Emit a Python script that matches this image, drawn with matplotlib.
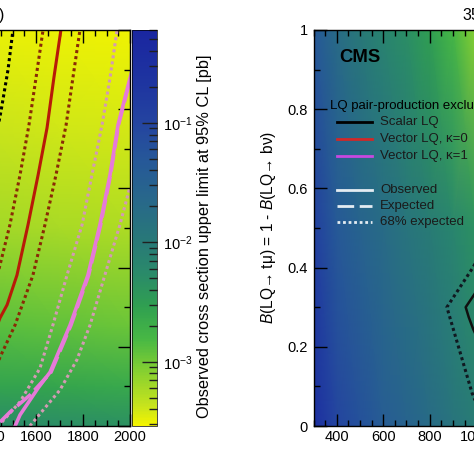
import matplotlib
matplotlib.use('Agg')
import matplotlib.pyplot as plt
from matplotlib.colors import LinearSegmentedColormap, LogNorm
from matplotlib.ticker import MultipleLocator, LogLocator, NullFormatter, FuncFormatter
from matplotlib.lines import Line2D
import numpy as np

plt.rcParams['font.family'] = ['Liberation Sans', 'DejaVu Sans']
plt.rcParams['mathtext.fontset'] = 'custom'
plt.rcParams['mathtext.rm'] = 'Liberation Sans'
plt.rcParams['mathtext.it'] = 'Liberation Sans:italic'
plt.rcParams['mathtext.bf'] = 'Liberation Sans:bold'

# z axis palette (bottom -> top)
pal_pos = [0.0, 0.048, 0.134, 0.217, 0.30, 0.386, 0.47, 0.57, 0.67, 0.765, 0.87, 1.0]
pal_col = ['#f4f400', '#c8e41c', '#88d030', '#48b844', '#30a050', '#2a8a6a',
           '#287878', '#28688a', '#265898', '#2444a0', '#1e34a0', '#1a26a0']
zmin, zmax = 2.9e-4, 0.6

# left panel: observed limit map [pb] (rows = l_y, cols = l_mass)
l_mass = [300, 1400, 1700, 2000]
l_y = [0.0, 0.1, 0.25, 0.5, 0.75, 1.0]
l_xsec = [[0.35, 0.0055, 0.0050, 0.0046],
          [0.20, 0.0027, 0.0025, 0.0023],
          [0.10, 0.0013, 0.0012, 0.0011],
          [0.05, 0.00062, 0.00058, 0.00055],
          [0.03, 0.00042, 0.00040, 0.00038],
          [0.02, 0.00032, 0.00031, 0.00030]]

# left panel exclusion curves
sc_exp68_m = [1330, 1380, 1420, 1451, 1481, 1502]
sc_exp68_y = [0.45, 0.6, 0.7, 0.795, 0.9, 1.0]
v0_obs_m = [1400, 1447, 1477, 1519, 1566, 1609, 1647, 1676, 1706]
v0_obs_y = [0.2, 0.273, 0.306, 0.381, 0.508, 0.634, 0.753, 0.879, 1.0]
v0_lo_m = [1400, 1447, 1489, 1532, 1570, 1600, 1630]
v0_lo_y = [0.3, 0.407, 0.508, 0.634, 0.76, 0.879, 1.0]
v0_hi_m = [1400, 1447, 1511, 1587, 1638, 1685, 1728, 1757, 1787]
v0_hi_y = [0.1, 0.174, 0.255, 0.381, 0.508, 0.634, 0.76, 0.879, 1.0]
v1_obs_m = [1511, 1532, 1609, 1660, 1745, 1821, 1872, 1915, 1949, 1996, 2010]
v1_obs_y = [0.0, 0.028, 0.096, 0.136, 0.255, 0.381, 0.508, 0.634, 0.76, 0.869, 0.9]
v1_exp_m = [1447, 1489, 1574, 1664, 1749, 1824, 1875, 1917, 1951, 1998]
v1_exp_y = [0.01, 0.035, 0.078, 0.136, 0.255, 0.381, 0.508, 0.634, 0.76, 0.869]
v1_lo_m = [1455, 1532, 1617, 1672, 1732, 1796, 1838, 1881, 1915, 1945]
v1_lo_y = [0.01, 0.061, 0.146, 0.255, 0.381, 0.508, 0.634, 0.76, 0.879, 1.0]
v1_hi_m = [1574, 1630, 1702, 1774, 1830, 1902, 1957, 2000]
v1_hi_y = [0.0, 0.040, 0.091, 0.167, 0.255, 0.399, 0.508, 0.604]

# right panel: limit map vs mass and branching fraction [pb]
r_mass = [300, 400, 500, 600, 700, 800, 900, 1000, 1200, 2000]
r_br = [0.0, 0.5, 1.0]
r_xsec = [[0.35, 0.096, 0.061, 0.038, 0.028, 0.019, 0.013, 0.009, 0.005, 0.001],
          [0.13, 0.045, 0.028, 0.019, 0.013, 0.0095, 0.0066, 0.0045, 0.0025, 0.0005],
          [0.048, 0.019, 0.0105, 0.0070, 0.0048, 0.0030, 0.0016, 0.0008, 0.0006, 0.0003]]
r_obs_m = [1060, 994, 955, 968, 987, 1030]
r_obs_y = [0.40, 0.334, 0.30, 0.275, 0.245, 0.19]
r_exp68_m = [1100, 986, 874, 982, 1040]
r_exp68_y = [0.52, 0.40, 0.30, 0.084, 0.0]

cmap = LinearSegmentedColormap.from_list('lim', list(zip(pal_pos, pal_col)))
norm = LogNorm(vmin=zmin, vmax=zmax)

W = 474.0
def fx(px):
    return px / W
def fy(py):
    return 1 - py / W

fig = plt.figure(figsize=(4.74, 4.74), dpi=100)

ax1 = fig.add_axes([fx(130 - 399.5), fy(426), 399.5 / W, 396 / W])
ax2 = fig.add_axes([fx(313.5), fy(426), 395 / W, 396 / W])
cax = fig.add_axes([fx(132), fy(426), 25 / W, 396 / W])


def style(ax):
    ax.set_xlim(300, 2000)
    ax.set_ylim(0, 1)
    ax.xaxis.set_major_locator(MultipleLocator(200))
    ax.xaxis.set_minor_locator(MultipleLocator(50))
    ax.yaxis.set_major_locator(MultipleLocator(0.2))
    ax.yaxis.set_minor_locator(MultipleLocator(0.1))
    ax.yaxis.set_major_formatter(FuncFormatter(lambda v, p: '%g' % round(v, 2)))
    ax.tick_params(which='both', direction='in', top=True, right=True, labelsize=10.5, width=1.0)
    ax.tick_params(which='major', length=9)
    ax.tick_params(which='minor', length=4.5)
    ax.tick_params(axis='x', pad=3)
    ax.tick_params(axis='y', pad=4)
    for s in ax.spines.values():
        s.set_linewidth(1.0)


X, Y = np.meshgrid(l_mass, l_y)
mesh = ax1.pcolormesh(X, Y, np.array(l_xsec), cmap=cmap, norm=norm, shading='gouraud')
style(ax1)
dot = (0, (1, 1))
ax1.plot(sc_exp68_m, sc_exp68_y, color='black', lw=2.2, ls=dot)
ax1.plot(v0_lo_m, v0_lo_y, color='#8a2a05', lw=2.2, ls=dot)
ax1.plot(v0_hi_m, v0_hi_y, color='#8a2a05', lw=2.2, ls=dot)
ax1.plot(v0_obs_m, v0_obs_y, color='#b81a08', lw=2.2)
ax1.plot(v1_lo_m, v1_lo_y, color='#d49ab4', lw=2.2, ls=dot)
ax1.plot(v1_hi_m, v1_hi_y, color='#d49ab4', lw=2.2, ls=dot)
ax1.plot(v1_exp_m, v1_exp_y, color='#e67ad8', lw=2.6, ls=(0, (5, 1.5)))
ax1.plot(v1_obs_m, v1_obs_y, color='#e67ad8', lw=2.6)

cb = fig.colorbar(mesh, cax=cax)
cb.outline.set_linewidth(0.5)
cax.yaxis.set_ticks_position('right')
cax.yaxis.set_major_locator(LogLocator(base=10))
cax.yaxis.set_minor_locator(LogLocator(base=10, subs=np.arange(2, 10)))
cax.yaxis.set_minor_formatter(NullFormatter())
cax.tick_params(which='both', direction='in', labelsize=10.5, pad=4, color='#202020')
cax.tick_params(which='major', length=11, width=1.0)
cax.tick_params(which='minor', length=6, width=1.0)
fig.text(fx(205), fy(236), 'Observed cross section upper limit at 95% CL [pb]',
         rotation=90, ha='center', va='center', fontsize=11.8)

X2, Y2 = np.meshgrid(r_mass, r_br)
ax2.pcolormesh(X2, Y2, np.array(r_xsec), cmap=cmap, norm=norm, shading='gouraud')
style(ax2)
ax2.plot(r_exp68_m, r_exp68_y, color='#101820', lw=2.2, ls=dot)
ax2.plot(r_obs_m, r_obs_y, color='#101010', lw=1.8)
fig.text(fx(268), fy(227), '$\\mathit{B}$(LQ\u2192 t\u03bc) = 1 - $\\mathit{B}$(LQ\u2192 b\u03bd)',
         rotation=90, ha='center', va='center', fontsize=11.2)

# top labels and CMS tag
fig.text(fx(5), fy(15), r'35.9 fb$^{-1}$ (13 TeV)', ha='right', va='center', fontsize=11.5)
fig.text(fx(462), fy(15), r'35.9 fb$^{-1}$ (13 TeV)', ha='left', va='center', fontsize=11.5)
fig.text(fx(339), fy(58), 'CMS', ha='left', va='center', fontsize=13.3, fontweight='bold')

# legend
fig.text(fx(330), fy(106), 'LQ pair-production exclusion (95% CL)', ha='left', va='center', fontsize=9.5)
leg_rows = [(122, 'Scalar LQ', '#000000', '-'),
            (139, 'Vector LQ, \u03ba=0', '#d02828', '-'),
            (156, 'Vector LQ, \u03ba=1', '#c848e0', '-'),
            (190, 'Observed', '#e4ecf2', '-'),
            (206, 'Expected', '#e4ecf2', (0, (6, 2))),
            (222, '68% expected', '#e4ecf2', (0, (1, 1)))]
for py, lab, col, ls in leg_rows:
    fig.add_artist(Line2D([fx(337), fx(372)], [fy(py), fy(py)], color=col, lw=2.0, ls=ls,
                          transform=fig.transFigure))
    fig.text(fx(380), fy(py), lab, ha='left', va='center', fontsize=9.5, color='#1a1a1a')

fig.savefig('out.png', dpi=100)
